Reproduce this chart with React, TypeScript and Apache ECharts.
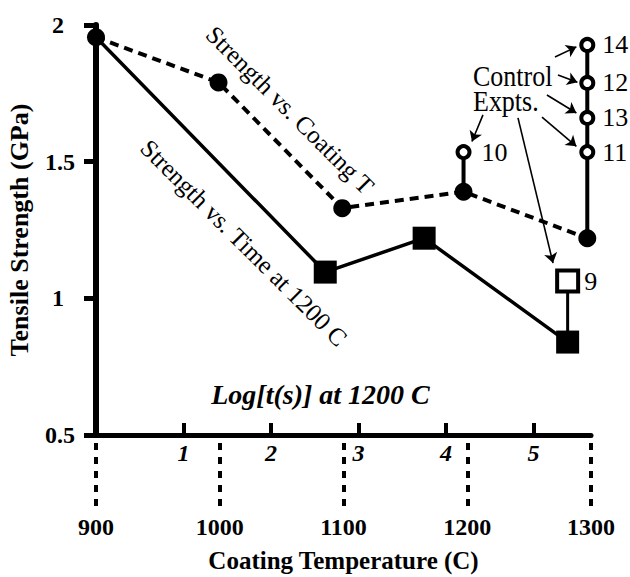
import React, { useEffect, useRef } from "react";
import * as echarts from "echarts";

// ---- data ----
const coatingTemps = [900, 999, 1099, 1197, 1297];
const coatingStrength = [1.955, 1.79, 1.33, 1.39, 1.22];

const logTimes = [0, 2.62, 3.75, 5.39];
const timeStrength = [1.955, 1.096, 1.22, 0.84];

const control1300Temp = 1297;
const control1300Strength = [1.22, 1.535, 1.66, 1.788, 1.927];
const control1300Labels = ["", "11", "13", "12", "14"];

const control1200Temp = 1197;
const control1200Strength = [1.39, 1.535];
const control1200Labels = ["", "10"];

const control9Log = 5.39;
const control9Strength = [0.84, 1.063];
const control9Labels = ["", "9"];

const logTickValues = [1, 2, 3, 4, 5];

// arrows from "Control Expts." text: [fromT, fromS, toT, toS]
const arrowSegments = [
  [1270.9, 1.883, 1288.2, 1.92],
  [1273.3, 1.817, 1289.0, 1.791],
  [1264.4, 1.744, 1288.2, 1.678],
  [1260.4, 1.663, 1288.2, 1.556],
  [1212.7, 1.671, 1203.8, 1.574],
  [1241.0, 1.66, 1269.3, 1.129],
];

const SERIF = '"Liberation Serif", "Times New Roman", serif';

export default function App() {
  const ref = useRef<HTMLDivElement>(null);
  useEffect(() => {
    document.body.style.margin = "0";
    const chart = echarts.init(ref.current!, null, { renderer: "svg" });
    const openCircle = {
      color: "#fff",
      borderColor: "#000",
      borderWidth: 4,
    };
    const numLabel = (labels: string[], dist: number) => ({
      show: true,
      position: "right",
      distance: dist,
      formatter: (p: any) => labels[p.dataIndex],
      fontFamily: SERIF,
      fontSize: 26,
      color: "#000",
    });
    const yLabelFont = {
      fontFamily: SERIF,
      fontSize: 24,
      fontWeight: "bold",
      color: "#000",
    };
    chart.setOption({
      animation: false,
      backgroundColor: "#fff",
      grid: {
        left: 96,
        right: 39,
        top: 25,
        bottom: 142,
        containLabel: false,
        outerBoundsMode: "none",
      },
      xAxis: [
        {
          type: "value",
          position: "bottom",
          min: 0,
          max: 5.657,
          interval: 1,
          splitLine: { show: false },
          axisLine: { show: true, onZero: false, lineStyle: { color: "#000", width: 5 } },
          axisTick: {
            show: true,
            inside: true,
            length: 12,
            customValues: logTickValues,
            lineStyle: { color: "#000", width: 4 },
          },
          axisLabel: {
            show: true,
            customValues: logTickValues,
            margin: 6,
            fontFamily: SERIF,
            fontSize: 24,
            fontWeight: "bold",
            fontStyle: "italic",
            color: "#000",
          },
          name: "Log[t(s)] at 1200 C",
          nameLocation: "middle",
          nameGap: -55,
          nameTextStyle: {
            fontFamily: SERIF,
            fontSize: 28,
            fontWeight: "bold",
            fontStyle: "italic",
            color: "#000",
            padding: [0, 46, 0, 0],
          },
        },
        {
          type: "value",
          position: "bottom",
          offset: 8,
          min: 900,
          max: 1300,
          interval: 100,
          splitLine: { show: false },
          axisLine: { show: false, onZero: false },
          axisTick: {
            show: true,
            length: 66,
            lineStyle: { color: "#000", width: 4, type: [7, 7] },
          },
          axisLabel: {
            show: true,
            margin: 72,
            formatter: (v: number) => String(v),
            fontFamily: SERIF,
            fontSize: 24,
            fontWeight: "bold",
            color: "#000",
          },
          name: "Coating Temperature (C)",
          nameLocation: "middle",
          nameGap: 105,
          nameTextStyle: {
            fontFamily: SERIF,
            fontSize: 25,
            fontWeight: "bold",
            color: "#000",
          },
        },
      ],
      yAxis: {
        type: "value",
        min: 0.5,
        max: 2,
        interval: 0.5,
        splitLine: { show: false },
        axisLine: { show: true, onZero: false, lineStyle: { color: "#000", width: 6 } },
        axisTick: { show: true, length: 12, lineStyle: { color: "#000", width: 5 } },
        axisLabel: {
          margin: 21,
          align: "right",
          ...yLabelFont,
          formatter: (v: number) =>
            Number.isInteger(v) ? `{n|${v}}` : `{f|${v}}`,
          rich: {
            n: { ...yLabelFont, padding: [0, 11, 0, 0] },
            f: { ...yLabelFont },
          },
        },
        name: "Tensile Strength (GPa)",
        nameLocation: "middle",
        nameGap: 64,
        nameTextStyle: {
          fontFamily: SERIF,
          fontSize: 26,
          fontWeight: "bold",
          color: "#000",
        },
      },
      series: [
        {
          name: "Control 1300",
          type: "line",
          xAxisIndex: 1,
          z: 2,
          data: control1300Strength.map((v, i) => ({
            value: [control1300Temp, v],
            symbol: i === 0 ? "none" : "circle",
          })),
          symbolSize: 12,
          showAllSymbol: true,
          lineStyle: { color: "#000", width: 4 },
          itemStyle: openCircle,
          label: numLabel(control1300Labels, 7),
          markLine: {
            silent: true,
            symbol: ["none", "arrow"],
            symbolSize: 10,
            label: { show: false },
            lineStyle: { color: "#000", width: 1.6, type: "solid" },
            data: arrowSegments.map((a) => [
              { coord: [a[0], a[1]] },
              { coord: [a[2], a[3]] },
            ]),
          },
        },
        {
          name: "Control 1200",
          type: "line",
          xAxisIndex: 1,
          z: 2,
          data: control1200Strength.map((v, i) => ({
            value: [control1200Temp, v],
            symbol: i === 0 ? "none" : "circle",
          })),
          symbolSize: 12,
          showAllSymbol: true,
          lineStyle: { color: "#000", width: 4 },
          itemStyle: openCircle,
          label: numLabel(control1200Labels, 10),
        },
        {
          name: "Control 9",
          type: "line",
          xAxisIndex: 0,
          z: 2,
          data: control9Strength.map((v, i) => ({
            value: [control9Log, v],
            symbol: i === 0 ? "none" : "rect",
          })),
          symbolSize: 21,
          showAllSymbol: true,
          lineStyle: { color: "#000", width: 3 },
          itemStyle: openCircle,
          label: numLabel(control9Labels, 4),
        },
        {
          name: "Strength vs. Time at 1200 C",
          type: "line",
          xAxisIndex: 0,
          z: 3,
          data: logTimes.map((t, i) => ({
            value: [t, timeStrength[i]],
            symbol: i === 0 ? "none" : "rect",
          })),
          symbolSize: 23,
          showAllSymbol: true,
          lineStyle: { color: "#000", width: 3.5 },
          itemStyle: { color: "#000" },
        },
        {
          name: "Strength vs. Coating T",
          type: "line",
          xAxisIndex: 1,
          z: 4,
          data: coatingTemps.map((t, i) => [t, coatingStrength[i]]),
          symbol: "circle",
          symbolSize: 18,
          showAllSymbol: true,
          lineStyle: { color: "#000", width: 4, type: [9, 6] },
          itemStyle: { color: "#000" },
        },
      ],
      graphic: [
        {
          type: "text",
          x: 290,
          y: 110,
          rotation: -Math.PI / 4,
          style: {
            text: "Strength vs. Coating T",
            font: `normal 25px ${SERIF}`,
            fill: "#000",
            align: "center",
            verticalAlign: "middle",
          },
        },
        {
          type: "text",
          x: 244,
          y: 243,
          rotation: -Math.PI / 4,
          style: {
            text: "Strength vs. Time at 1200 C",
            font: `normal 25px ${SERIF}`,
            fill: "#000",
            align: "center",
            verticalAlign: "middle",
          },
        },
        {
          type: "text",
          x: 473,
          y: 76,
          scaleY: 1.12,
          style: {
            text: "Control",
            font: `normal 26px ${SERIF}`,
            fill: "#000",
            align: "left",
            verticalAlign: "middle",
          },
        },
        {
          type: "text",
          x: 473,
          y: 101,
          scaleY: 1.12,
          style: {
            text: "Expts.",
            font: `normal 26px ${SERIF}`,
            fill: "#000",
            align: "left",
            verticalAlign: "middle",
          },
        },
      ],
    });
    return () => chart.dispose();
  }, []);
  return <div ref={ref} style={{ width: 630, height: 577 }} />;
}
